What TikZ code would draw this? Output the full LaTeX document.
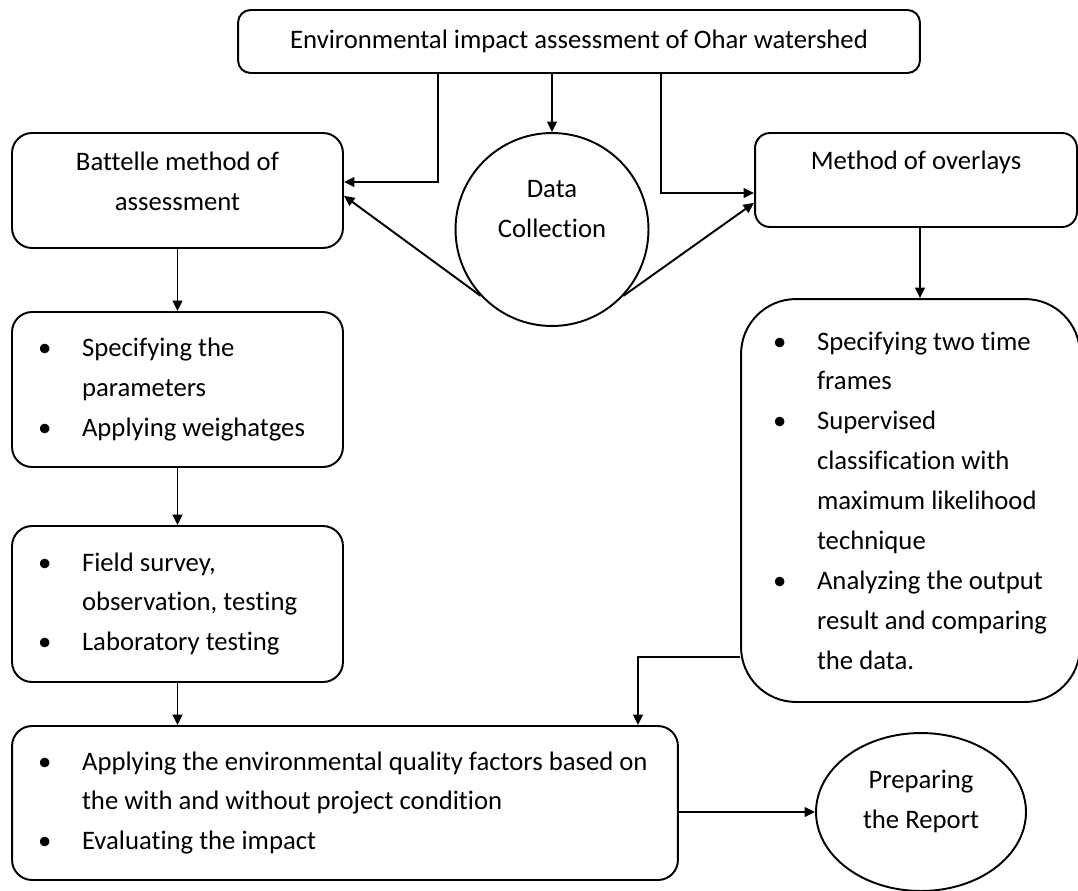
\documentclass[tikz,border=0pt]{standalone}
\usepackage{fontspec}
\setmainfont{Carlito}[Ligatures=NoCommon]
\usetikzlibrary{arrows.meta,shapes.geometric}
\newcommand{\bul}{\makebox[0.88cm][l]{\textbullet}}
\newcommand{\ind}{\hspace*{0.88cm}}

\begin{document}
\begin{tikzpicture}[x=0.02cm, y=-0.02cm,
  box/.style={draw, line width=1.1pt, rounded corners=0.4cm, inner sep=0pt, font=\fontsize{15.2}{22.7}\selectfont},
  list/.style={box, align=flush left, inner xsep=0.52cm, text width=#1},
  arr/.style={-{Triangle[length=6pt,width=5.5pt]}, line width=1.1pt}]
\useasboundingbox (0,0) rectangle (1078,890);
\node[box, rounded corners=0.25cm, minimum width=13.64cm, minimum height=1.26cm, align=center] (assess) at (579,41.5) {Environmental impact assessment of Ohar watershed};
\node[box, minimum width=6.62cm, minimum height=2.3cm, align=center, text depth=11pt] (battelle) at (177.5,190.5) {Battelle method of\\assessment};
\node[box, circle, minimum size=3.86cm, align=center, text depth=23pt] (data) at (552,229.5) {Data\\Collection};
\node[box, rounded corners=0.3cm, minimum width=6.44cm, minimum height=1.88cm, align=center, text depth=22pt] (overlays) at (916,180) {Method of overlays};
\node[list=5.58cm, minimum height=3.1cm] (specs) at (177.5,389.5) {\bul Specifying the\\\ind parameters\\\bul Applying weighatges};
\node[list=5.58cm, minimum height=3.12cm] (survey) at (177.5,604) {\bul Field survey,\\\ind observation, testing\\\bul Laboratory testing};
\node[list=12.28cm, minimum height=3.08cm] (factors) at (345,803) {\bul Applying the environmental quality factors based on\\\ind the with and without project condition\\\bul Evaluating the impact};
\node[list=5.5cm, inner xsep=0.64cm, rounded corners=1.1cm, minimum height=8.06cm] (frames) at (910.5,500.5) {\bul Specifying two time\\\ind frames\\\bul Supervised\\\ind classification with\\\ind maximum likelihood\\\ind technique\\\bul Analyzing the output\\\ind result and comparing\\\ind the data.};
\node[box, ellipse, minimum width=4.2cm, minimum height=3.16cm, align=center, text depth=14pt] (report) at (921,812) {Preparing\\the Report};
\coordinate (kL) at (438,182);
\coordinate (kR) at (661,193);
\coordinate (kT) at (920,227);
\coordinate (kB) at (638,657);
\draw[arr] (assess.south -| kL) |- (battelle.east |- kL);
\draw[arr] (assess.south -| data.north) -- (data.north);
\draw[arr] (assess.south -| kR) |- (overlays.west |- kR);
\draw[arr] (data.223) -- ([yshift=-3pt]battelle.east);
\draw[arr] (data.317) -- ([yshift=-13pt]overlays.west);
\draw[arr] (battelle.south) -- (specs.north);
\draw[arr] (specs.south) -- (survey.north);
\draw[arr] (survey.south) -- (factors.north -| survey.south);
\draw[arr] (overlays.south -| kT) -- (frames.north -| kT);
\draw[arr] (frames.west |- kB) -| (factors.north -| kB);
\draw[arr] (factors.east |- report.west) -- (report.west);
\end{tikzpicture}
\end{document}
